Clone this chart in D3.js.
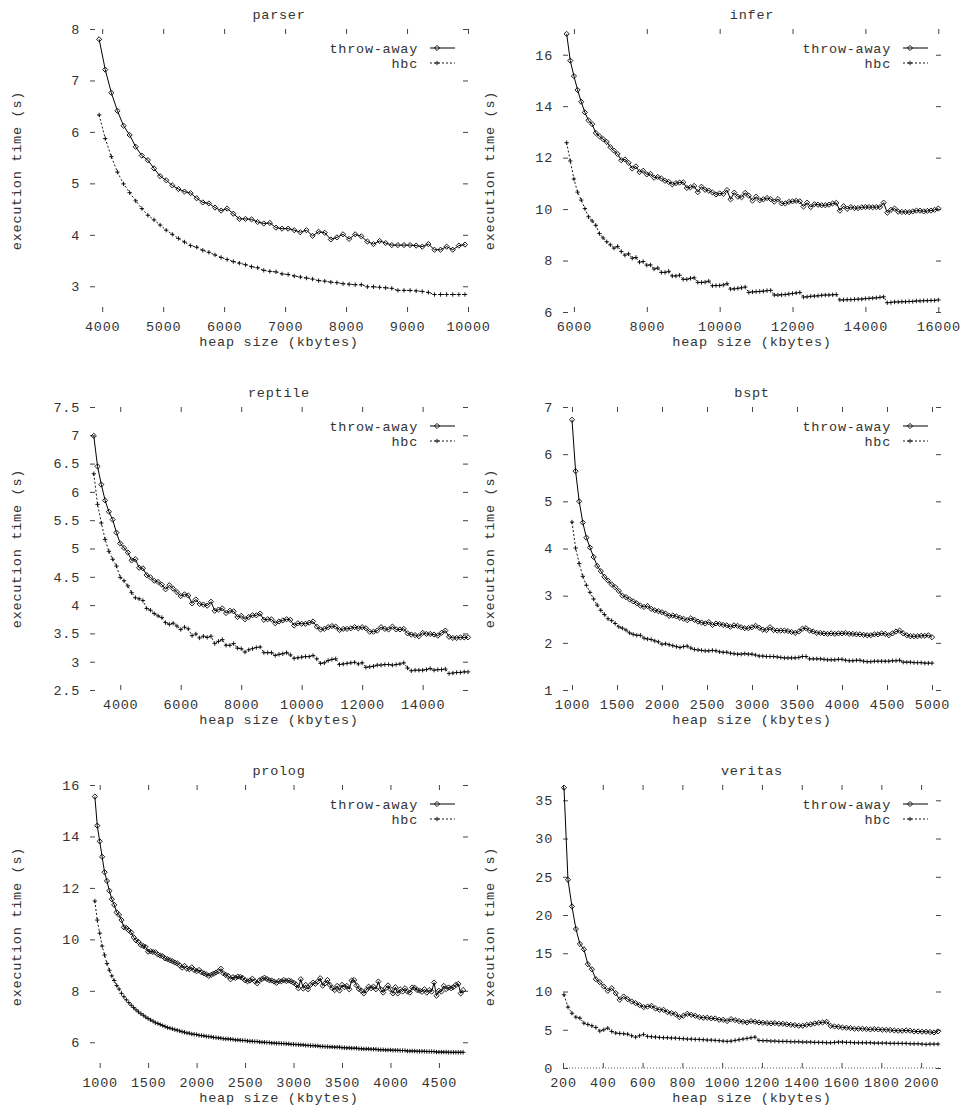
<!DOCTYPE html>
<html>
<head>
<meta charset="utf-8">
<script src="https://cdn.jsdelivr.net/npm/d3@7"></script>
<style>
  body { margin: 0; background: #fff; }
  text { font-family: "Liberation Mono", "DejaVu Sans Mono", monospace; fill: #333; }
</style>
</head>
<body>
<svg id="chart" width="960" height="1107"></svg>
<script>
// heap sizes (kbytes) at which each run was sampled
const parserHeap = d3.range(3950, 10000, 100);
const inferHeap = d3.range(5800, 16001, 100);
const reptileHeap = d3.range(3125, 15501, 125);
const bsptHeap = d3.range(1000, 5001, 40);
const prologHeap = d3.range(950, 4751, 25);
const veritasHeap = d3.range(205, 2086, 20);

// execution times (s)
const parserThrow = [7.80,7.21,6.76,6.41,6.12,5.94,5.71,5.54,5.45,5.29,
  5.14,5.06,4.96,4.89,4.84,4.81,4.71,4.63,4.61,4.53,
  4.47,4.51,4.41,4.31,4.31,4.30,4.25,4.22,4.23,4.14,
  4.12,4.12,4.09,4.05,4.09,3.98,4.06,4.04,3.91,3.95,
  4.01,3.92,4.01,3.97,3.87,3.82,3.88,3.84,3.80,3.80,
  3.80,3.80,3.79,3.77,3.82,3.71,3.71,3.77,3.71,3.79,
  3.81];
const parserHbc = [6.33,5.87,5.52,5.22,4.99,4.82,4.66,4.51,4.38,4.29,
  4.19,4.09,4.01,3.93,3.86,3.79,3.76,3.70,3.66,3.61,
  3.56,3.52,3.48,3.45,3.42,3.38,3.36,3.31,3.29,3.28,
  3.24,3.23,3.20,3.18,3.16,3.14,3.11,3.10,3.08,3.07,
  3.05,3.04,3.03,3.03,2.99,2.99,2.98,2.97,2.96,2.92,
  2.92,2.92,2.91,2.90,2.88,2.84,2.84,2.84,2.84,2.84,
  2.84];

const inferThrow = [16.81,15.77,15.17,14.63,14.17,13.76,13.45,13.30,12.96,12.83,
  12.72,12.61,12.41,12.27,12.14,11.90,11.93,11.80,11.58,11.66,
  11.44,11.49,11.35,11.37,11.22,11.25,11.19,11.10,11.06,10.96,
  11.01,11.03,11.04,10.82,10.85,10.90,10.66,10.87,10.75,10.72,
  10.65,10.57,10.61,10.59,10.74,10.38,10.64,10.48,10.46,10.63,
  10.52,10.33,10.48,10.34,10.38,10.43,10.39,10.29,10.39,10.22,
  10.22,10.28,10.30,10.32,10.30,10.10,10.25,10.08,10.19,10.17,
  10.15,10.15,10.17,10.22,10.24,9.94,10.11,10.01,10.08,10.04,
  10.04,10.07,10.08,10.08,10.07,10.08,10.08,10.25,9.86,9.97,
  10.02,9.90,9.89,9.89,9.88,9.91,9.94,9.94,9.91,9.93,
  9.94,9.97,10.02];
const inferHbc = [12.58,11.87,11.17,10.66,10.35,10.02,9.70,9.54,9.37,9.05,
  8.88,8.73,8.61,8.48,8.55,8.35,8.21,8.26,8.09,8.12,
  7.94,7.96,7.82,7.83,7.67,7.71,7.54,7.54,7.58,7.40,
  7.40,7.43,7.27,7.27,7.31,7.33,7.15,7.15,7.16,7.20,
  7.02,7.03,7.03,7.05,7.10,6.89,6.90,6.92,6.94,6.97,
  6.76,6.78,6.79,6.80,6.81,6.83,6.84,6.66,6.66,6.67,
  6.68,6.70,6.72,6.74,6.76,6.58,6.59,6.61,6.62,6.63,
  6.65,6.66,6.66,6.67,6.68,6.47,6.47,6.48,6.48,6.49,
  6.50,6.50,6.52,6.53,6.54,6.55,6.57,6.59,6.36,6.37,
  6.39,6.39,6.40,6.40,6.41,6.41,6.43,6.43,6.44,6.44,
  6.45,6.45,6.47];

const reptileThrow = [6.99,6.45,6.13,5.85,5.65,5.51,5.28,5.09,5.01,4.93,
  4.79,4.81,4.66,4.65,4.53,4.49,4.43,4.41,4.36,4.28,
  4.35,4.29,4.23,4.16,4.19,4.17,4.03,4.10,4.02,4.01,
  3.99,4.06,3.90,3.92,3.94,3.86,3.90,3.89,3.79,3.81,
  3.75,3.79,3.82,3.82,3.85,3.74,3.75,3.75,3.68,3.71,
  3.73,3.75,3.74,3.64,3.68,3.67,3.67,3.69,3.71,3.62,
  3.57,3.58,3.61,3.63,3.62,3.56,3.58,3.58,3.59,3.61,
  3.59,3.61,3.59,3.53,3.53,3.55,3.61,3.58,3.57,3.62,
  3.57,3.57,3.58,3.50,3.48,3.47,3.45,3.51,3.49,3.49,
  3.48,3.46,3.51,3.55,3.44,3.42,3.42,3.43,3.43,3.43];
const reptileHbc = [6.32,5.78,5.45,5.16,4.95,4.81,4.69,4.49,4.43,4.34,
  4.22,4.13,4.11,4.08,3.94,3.91,3.85,3.81,3.78,3.69,
  3.66,3.68,3.63,3.57,3.61,3.58,3.46,3.49,3.42,3.45,
  3.43,3.45,3.32,3.36,3.39,3.29,3.29,3.32,3.24,3.23,
  3.17,3.21,3.23,3.25,3.26,3.16,3.16,3.16,3.11,3.13,
  3.14,3.16,3.12,3.06,3.07,3.08,3.09,3.09,3.11,3.05,
  2.97,2.98,3.02,3.04,3.05,2.95,2.96,2.97,2.98,2.99,
  2.96,2.98,2.90,2.91,2.92,2.94,2.94,2.95,2.95,2.94,
  2.95,2.96,2.98,2.89,2.84,2.85,2.85,2.85,2.86,2.88,
  2.85,2.86,2.86,2.87,2.79,2.80,2.81,2.81,2.82,2.82];

const bsptThrow = [6.73,5.64,5.00,4.55,4.23,4.02,3.82,3.63,3.52,3.40,
  3.32,3.24,3.18,3.10,3.00,2.97,2.92,2.88,2.84,2.79,
  2.76,2.78,2.72,2.69,2.67,2.65,2.62,2.57,2.58,2.56,
  2.53,2.51,2.48,2.52,2.49,2.45,2.43,2.41,2.44,2.38,
  2.41,2.40,2.38,2.37,2.34,2.37,2.36,2.33,2.31,2.31,
  2.33,2.36,2.32,2.28,2.27,2.33,2.27,2.26,2.26,2.26,
  2.25,2.23,2.21,2.24,2.30,2.31,2.26,2.24,2.21,2.21,
  2.20,2.19,2.20,2.19,2.20,2.20,2.21,2.19,2.19,2.18,
  2.18,2.17,2.16,2.16,2.18,2.18,2.20,2.19,2.16,2.20,
  2.24,2.26,2.20,2.16,2.14,2.14,2.14,2.15,2.15,2.16,
  2.12];
const bsptHbc = [4.56,4.01,3.68,3.41,3.22,3.07,2.93,2.80,2.69,2.60,
  2.51,2.47,2.41,2.34,2.31,2.27,2.21,2.18,2.16,2.16,
  2.10,2.08,2.07,2.04,2.02,1.97,1.98,1.96,1.94,1.92,
  1.90,1.92,1.93,1.89,1.86,1.85,1.84,1.83,1.83,1.84,
  1.83,1.81,1.80,1.80,1.78,1.77,1.76,1.76,1.77,1.76,
  1.76,1.74,1.72,1.72,1.71,1.71,1.71,1.70,1.69,1.68,
  1.68,1.68,1.68,1.69,1.71,1.71,1.66,1.66,1.66,1.66,
  1.65,1.64,1.64,1.64,1.65,1.65,1.63,1.62,1.62,1.63,
  1.63,1.61,1.60,1.60,1.61,1.61,1.61,1.61,1.61,1.62,
  1.62,1.63,1.59,1.59,1.59,1.58,1.58,1.58,1.57,1.57,
  1.57];

const prologThrow = [15.55,14.42,13.81,13.21,12.61,12.27,11.89,11.56,11.34,11.05,
  10.95,10.75,10.47,10.44,10.35,10.27,10.08,9.96,9.90,9.78,
  9.74,9.70,9.52,9.54,9.51,9.50,9.41,9.37,9.34,9.26,
  9.23,9.19,9.15,9.10,9.07,8.99,8.90,8.97,8.86,8.84,
  8.91,8.81,8.76,8.81,8.72,8.68,8.64,8.58,8.62,8.67,
  8.71,8.76,8.86,8.68,8.62,8.58,8.45,8.53,8.50,8.55,
  8.54,8.50,8.41,8.37,8.40,8.47,8.37,8.29,8.41,8.46,
  8.51,8.46,8.41,8.40,8.36,8.31,8.38,8.37,8.42,8.38,
  8.40,8.37,8.32,8.25,8.10,8.45,8.09,8.23,8.06,8.23,
  8.32,8.27,8.36,8.49,8.20,8.29,8.42,8.23,8.10,8.03,
  8.19,8.01,8.23,8.14,8.19,8.06,8.40,8.42,8.21,8.07,
  8.01,7.90,8.03,8.16,8.10,8.16,8.06,8.36,8.06,7.93,
  8.10,8.21,8.06,7.90,8.14,7.90,8.06,7.97,8.10,7.97,
  7.93,8.13,8.12,8.03,8.01,7.96,8.06,7.93,8.03,7.97,
  8.32,7.81,8.00,7.97,8.19,8.07,8.13,8.10,8.14,8.23,
  8.27,7.90,8.03];
const prologHbc = [11.49,10.75,10.24,9.74,9.39,9.06,8.80,8.58,8.40,8.21,
  8.07,7.90,7.77,7.65,7.54,7.44,7.35,7.26,7.18,7.11,
  7.05,6.98,6.92,6.87,6.82,6.76,6.73,6.69,6.65,6.61,
  6.57,6.55,6.52,6.49,6.47,6.44,6.41,6.39,6.36,6.35,
  6.32,6.31,6.30,6.27,6.26,6.25,6.23,6.22,6.21,6.19,
  6.18,6.17,6.16,6.14,6.13,6.13,6.12,6.11,6.09,6.09,
  6.08,6.07,6.07,6.05,6.04,6.04,6.03,6.03,6.01,6.00,
  6.00,5.99,5.99,5.97,5.97,5.96,5.96,5.95,5.95,5.94,
  5.94,5.92,5.92,5.91,5.91,5.90,5.90,5.88,5.88,5.87,
  5.87,5.86,5.86,5.84,5.84,5.83,5.83,5.82,5.82,5.81,
  5.81,5.81,5.79,5.79,5.78,5.78,5.77,5.77,5.77,5.75,
  5.75,5.74,5.74,5.74,5.73,5.73,5.73,5.71,5.71,5.71,
  5.70,5.70,5.70,5.69,5.69,5.69,5.68,5.68,5.68,5.66,
  5.66,5.66,5.66,5.65,5.65,5.65,5.65,5.64,5.64,5.64,
  5.64,5.62,5.62,5.62,5.62,5.62,5.61,5.61,5.61,5.61,
  5.61,5.61,5.61];

const veritasThrow = [36.65,24.61,21.13,18.17,16.22,15.52,13.57,12.91,11.61,11.22,
  10.65,10.09,10.43,9.78,8.91,9.35,9.00,8.70,8.48,8.22,
  7.96,8.04,8.13,7.78,7.61,7.61,7.30,7.17,7.04,6.65,
  6.83,7.09,6.96,6.83,6.65,6.57,6.57,6.48,6.48,6.30,
  6.30,6.13,6.39,6.26,6.13,6.04,5.96,6.13,6.04,5.96,
  5.91,5.87,5.83,5.87,5.78,5.78,5.70,5.65,5.61,5.52,
  5.52,5.65,5.70,5.83,5.91,5.96,6.04,5.52,5.43,5.39,
  5.30,5.26,5.22,5.13,5.13,5.13,5.09,5.04,5.09,5.04,
  5.00,5.00,4.96,4.91,4.87,4.87,4.91,4.87,4.78,4.78,
  4.74,4.74,4.70,4.65,4.78];
const veritasHbc = [9.57,7.96,7.17,6.65,6.52,5.87,5.70,5.52,5.30,4.83,
  5.00,5.22,4.78,4.57,4.52,4.48,4.43,4.22,4.04,4.22,
  4.39,4.13,4.09,4.04,4.00,3.96,3.96,3.91,3.91,3.87,
  3.83,3.78,3.78,3.74,3.74,3.70,3.65,3.65,3.61,3.57,
  3.52,3.48,3.52,3.61,3.70,3.78,3.87,3.96,4.04,3.61,
  3.57,3.57,3.52,3.52,3.48,3.48,3.48,3.43,3.43,3.43,
  3.39,3.39,3.39,3.35,3.35,3.35,3.30,3.30,3.35,3.39,
  3.39,3.35,3.35,3.30,3.30,3.30,3.30,3.30,3.26,3.26,
  3.26,3.26,3.22,3.22,3.22,3.22,3.22,3.17,3.17,3.17,
  3.13,3.09,3.13,3.13,3.13];

// axis ranges and tick labels
const parserXRange = [3800, 10000], parserYRange = [2.5, 8];
const parserXTicks = [4000,5000,6000,7000,8000,9000,10000];
const parserYTicks = [3,4,5,6,7,8];
const inferXRange = [5700, 16075], inferYRange = [6, 17];
const inferXTicks = [6000,8000,10000,12000,14000,16000];
const inferYTicks = [6,8,10,12,14,16];
const reptileXRange = [3000, 15500], reptileYRange = [2.5, 7.5];
const reptileXTicks = [4000,6000,8000,10000,12000,14000];
const reptileYTicks = [2.5,3,3.5,4,4.5,5,5.5,6,6.5,7,7.5];
const bsptXRange = [900, 5100], bsptYRange = [1, 7];
const bsptXTicks = [1000,1500,2000,2500,3000,3500,4000,4500,5000];
const bsptYTicks = [1,2,3,4,5,6,7];
const prologXRange = [900, 4800], prologYRange = [5, 16];
const prologXTicks = [1000,1500,2000,2500,3000,3500,4000,4500];
const prologYTicks = [6,8,10,12,14,16];
const veritasXRange = [200, 2100], veritasYRange = [0, 37];
const veritasXTicks = [200,400,600,800,1000,1200,1400,1600,1800,2000];
const veritasYTicks = [0,5,10,15,20,25,30,35];

const seriesNames = ["throw-away", "hbc"];

const panels = [
  { name: "parser", heap: parserHeap, throwAway: parserThrow, hbc: parserHbc,
    xRange: parserXRange, yRange: parserYRange, xTicks: parserXTicks, yTicks: parserYTicks },
  { name: "infer", heap: inferHeap, throwAway: inferThrow, hbc: inferHbc,
    xRange: inferXRange, yRange: inferYRange, xTicks: inferXTicks, yTicks: inferYTicks },
  { name: "reptile", heap: reptileHeap, throwAway: reptileThrow, hbc: reptileHbc,
    xRange: reptileXRange, yRange: reptileYRange, xTicks: reptileXTicks, yTicks: reptileYTicks },
  { name: "bspt", heap: bsptHeap, throwAway: bsptThrow, hbc: bsptHbc,
    xRange: bsptXRange, yRange: bsptYRange, xTicks: bsptXTicks, yTicks: bsptYTicks },
  { name: "prolog", heap: prologHeap, throwAway: prologThrow, hbc: prologHbc,
    xRange: prologXRange, yRange: prologYRange, xTicks: prologXTicks, yTicks: prologYTicks },
  { name: "veritas", heap: veritasHeap, throwAway: veritasThrow, hbc: veritasHbc,
    xRange: veritasXRange, yRange: veritasYRange, xTicks: veritasXTicks, yTicks: veritasYTicks },
];

const svg = d3.select("#chart");
const colLeft = [90, 563];
const rowTop = [29, 407, 785];
const plotW = 378, plotH = 283;
const fontSize = "13.5px", letterSp = "0.75px";

const diamond = "M0,-2.6L2.6,0L0,2.6L-2.6,0Z";
const plus = "M-2.2,0H2.2M0,-2.2V2.2";

function styleAxis(sel, labels) {
  sel.select(".domain").remove();
  sel.selectAll(".tick line").attr("stroke", "#444").attr("stroke-width", 1);
  sel.selectAll(".tick text")
    .attr("fill", "#333")
    .style("font-size", fontSize)
    .style("letter-spacing", letterSp)
    .style("font-family", '"Liberation Mono", monospace');
  if (!labels) sel.selectAll(".tick text").remove();
}

panels.forEach((p, i) => {
  const left = colLeft[i % 2];
  const top = rowTop[Math.floor(i / 2)];
  const g = svg.append("g").attr("transform", `translate(${left},${top})`);

  const x = d3.scaleLinear().domain(p.xRange).range([0, plotW]);
  const y = d3.scaleLinear().domain(p.yRange).range([plotH, 0]);
  const fmt = (d) => String(d);

  // ticks on all four sides, pointing inward, no border
  g.append("g").attr("transform", `translate(0,${plotH})`)
    .call(d3.axisBottom(x).tickValues(p.xTicks).tickFormat(fmt).tickSize(-5).tickPadding(9))
    .call(styleAxis, true);
  g.append("g")
    .call(d3.axisTop(x).tickValues(p.xTicks).tickFormat(fmt).tickSize(-5))
    .call(styleAxis, false);
  g.append("g")
    .call(d3.axisLeft(y).tickValues(p.yTicks).tickFormat(fmt).tickSize(-5).tickPadding(10))
    .call(styleAxis, true);
  g.append("g").attr("transform", `translate(${plotW},0)`)
    .call(d3.axisRight(y).tickValues(p.yTicks).tickFormat(fmt).tickSize(-5))
    .call(styleAxis, false);

  // zero axis, only visible where 0 is inside the y range
  if (p.yRange[0] === 0) {
    g.append("line")
      .attr("x1", 0).attr("x2", plotW)
      .attr("y1", y(0)).attr("y2", y(0))
      .attr("stroke", "#555").attr("stroke-width", 1)
      .attr("stroke-dasharray", "1,2");
  }

  // titles and axis labels
  g.append("text").text(p.name)
    .attr("x", plotW / 2).attr("y", -10)
    .attr("text-anchor", "middle")
    .style("font-size", fontSize).style("letter-spacing", letterSp);
  g.append("text").text("heap size (kbytes)")
    .attr("x", plotW / 2).attr("y", plotH + 34)
    .attr("text-anchor", "middle")
    .style("font-size", fontSize).style("letter-spacing", letterSp);
  g.append("text").text("execution time (s)")
    .attr("transform", `translate(-69,${plotH / 2}) rotate(-90)`)
    .attr("text-anchor", "middle")
    .style("font-size", fontSize).style("letter-spacing", letterSp);

  const line = d3.line().x((d) => x(d[0])).y((d) => y(d[1]));
  const throwPts = d3.zip(p.heap, p.throwAway);
  const hbcPts = d3.zip(p.heap, p.hbc);

  g.append("path").datum(hbcPts)
    .attr("d", line).attr("fill", "none")
    .attr("stroke", "#000").attr("stroke-width", 0.9)
    .attr("stroke-dasharray", "2,2");
  g.selectAll(".hbc-pt").data(hbcPts).join("path")
    .attr("class", "hbc-pt")
    .attr("transform", (d) => `translate(${x(d[0])},${y(d[1])})`)
    .attr("d", plus).attr("stroke", "#000").attr("stroke-width", 0.9);

  g.append("path").datum(throwPts)
    .attr("d", line).attr("fill", "none")
    .attr("stroke", "#000").attr("stroke-width", 1);
  g.selectAll(".tw-pt").data(throwPts).join("path")
    .attr("class", "tw-pt")
    .attr("transform", (d) => `translate(${x(d[0])},${y(d[1])})`)
    .attr("d", diamond).attr("fill", "none")
    .attr("stroke", "#000").attr("stroke-width", 0.9);

  // key, top right inside the plot
  const key = g.append("g").attr("transform", `translate(${plotW},0)`);
  seriesNames.forEach((s, k) => {
    const ky = 19 + k * 15;
    key.append("text").text(s)
      .attr("x", -50).attr("y", ky).attr("dy", "0.35em")
      .attr("text-anchor", "end")
      .style("font-size", fontSize).style("letter-spacing", letterSp);
    key.append("line")
      .attr("x1", -38).attr("x2", -13).attr("y1", ky).attr("y2", ky)
      .attr("stroke", "#000").attr("stroke-width", k === 0 ? 1 : 0.9)
      .attr("stroke-dasharray", k === 0 ? null : "2,2");
    key.append("path")
      .attr("transform", `translate(-31,${ky})`)
      .attr("d", k === 0 ? diamond : plus)
      .attr("fill", "none").attr("stroke", "#000").attr("stroke-width", 0.9);
  });
});
</script>
</body>
</html>
